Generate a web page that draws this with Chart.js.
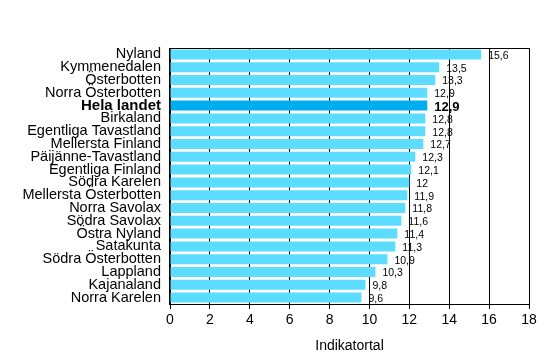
<!DOCTYPE html>
<html>
<head>
<meta charset="utf-8">
<script src="https://cdn.jsdelivr.net/npm/chart.js@4/dist/chart.umd.min.js"></script>
<style>
html,body{margin:0;padding:0;background:#fff;}
#wrap{width:553px;height:355px;position:relative;}
</style>
</head>
<body>
<div id="wrap"><canvas id="c" width="553" height="355"></canvas></div>
<script>
const categories = ["Nyland","Kymmenedalen","Österbotten","Norra Österbotten","Hela landet","Birkaland","Egentliga Tavastland","Mellersta Finland","Päijänne-Tavastland","Egentliga Finland","Södra Karelen","Mellersta Österbotten","Norra Savolax","Södra Savolax","Östra Nyland","Satakunta","Södra Österbotten","Lappland","Kajanaland","Norra Karelen"];
const values = [15.6,13.5,13.3,12.9,12.9,12.8,12.8,12.7,12.3,12.1,12,11.9,11.8,11.6,11.4,11.3,10.9,10.3,9.8,9.6];
const highlightIndex = 4;
const xTicks = [0,2,4,6,8,10,12,14,16,18];
const axisTitle = "Indikatortal";

const FONT = "'Liberation Sans', Arial, sans-serif";
const LIGHT = "#5CDCFF";
const DARK = "#00ADEF";

const labelPlugin = {
  id: 'valueLabels',
  afterDatasetsDraw(chart) {
    const ctx = chart.ctx;
    const meta = chart.getDatasetMeta(0);
    ctx.save();
    ctx.fillStyle = '#000';
    ctx.textAlign = 'left';
    ctx.textBaseline = 'middle';
    meta.data.forEach((bar, i) => {
      const v = values[i];
      const txt = String(v).replace('.', ',');
      ctx.font = (i === highlightIndex ? "bold 13px " : "10.5px ") + FONT;
      ctx.fillText(txt, bar.x + 7, bar.y + 1.5);
    });
    const a = chart.chartArea;
    ctx.strokeStyle = '#000';
    ctx.lineWidth = 1;
    ctx.strokeRect(Math.round(a.left) - 0.5, Math.round(a.top) + 0.5, Math.round(a.right - a.left) + 1, Math.round(a.bottom - a.top));
    ctx.restore();
  }
};

new Chart(document.getElementById('c'), {
  type: 'bar',
  data: {
    labels: categories,
    datasets: [{
      data: values,
      backgroundColor: values.map((v, i) => i === highlightIndex ? DARK : LIGHT),
      borderWidth: 0,
      categoryPercentage: 1,
      barPercentage: 0.78
    }]
  },
  options: {
    indexAxis: 'y',
    responsive: false,
    animation: false,
    events: [],
    layout: { padding: { top: 48, right: 24, left: 0, bottom: 0 } },
    plugins: { legend: { display: false }, tooltip: { enabled: false } },
    scales: {
      x: {
        min: 0, max: 18,
        afterBuildTicks(scale) { scale.ticks = xTicks.map(v => ({ value: v })); },
        afterFit(scale) { scale.height = 51; },
        grid: { color: '#000', lineWidth: 1, drawTicks: true, tickLength: 5, tickColor: '#000' },
        border: { display: true, color: '#000' },
        ticks: { color: '#000', font: { family: FONT, size: 14 }, padding: 3, autoSkip: false, maxRotation: 0 },
        title: { display: true, text: axisTitle, color: '#000', font: { family: FONT, size: 14 }, padding: { top: 7, bottom: 0 } }
      },
      y: {
        afterFit(scale) { scale.width = 170; },
        grid: { display: false, drawTicks: false },
        border: { display: true, color: '#000' },
        ticks: {
          color: '#000',
          autoSkip: false,
          padding: 9,
          font: (ctx) => ctx.index === highlightIndex ? { family: FONT, size: 15, weight: 'bold' } : { family: FONT, size: 14.5 }
        }
      }
    }
  },
  plugins: [labelPlugin]
});
</script>
</body>
</html>
